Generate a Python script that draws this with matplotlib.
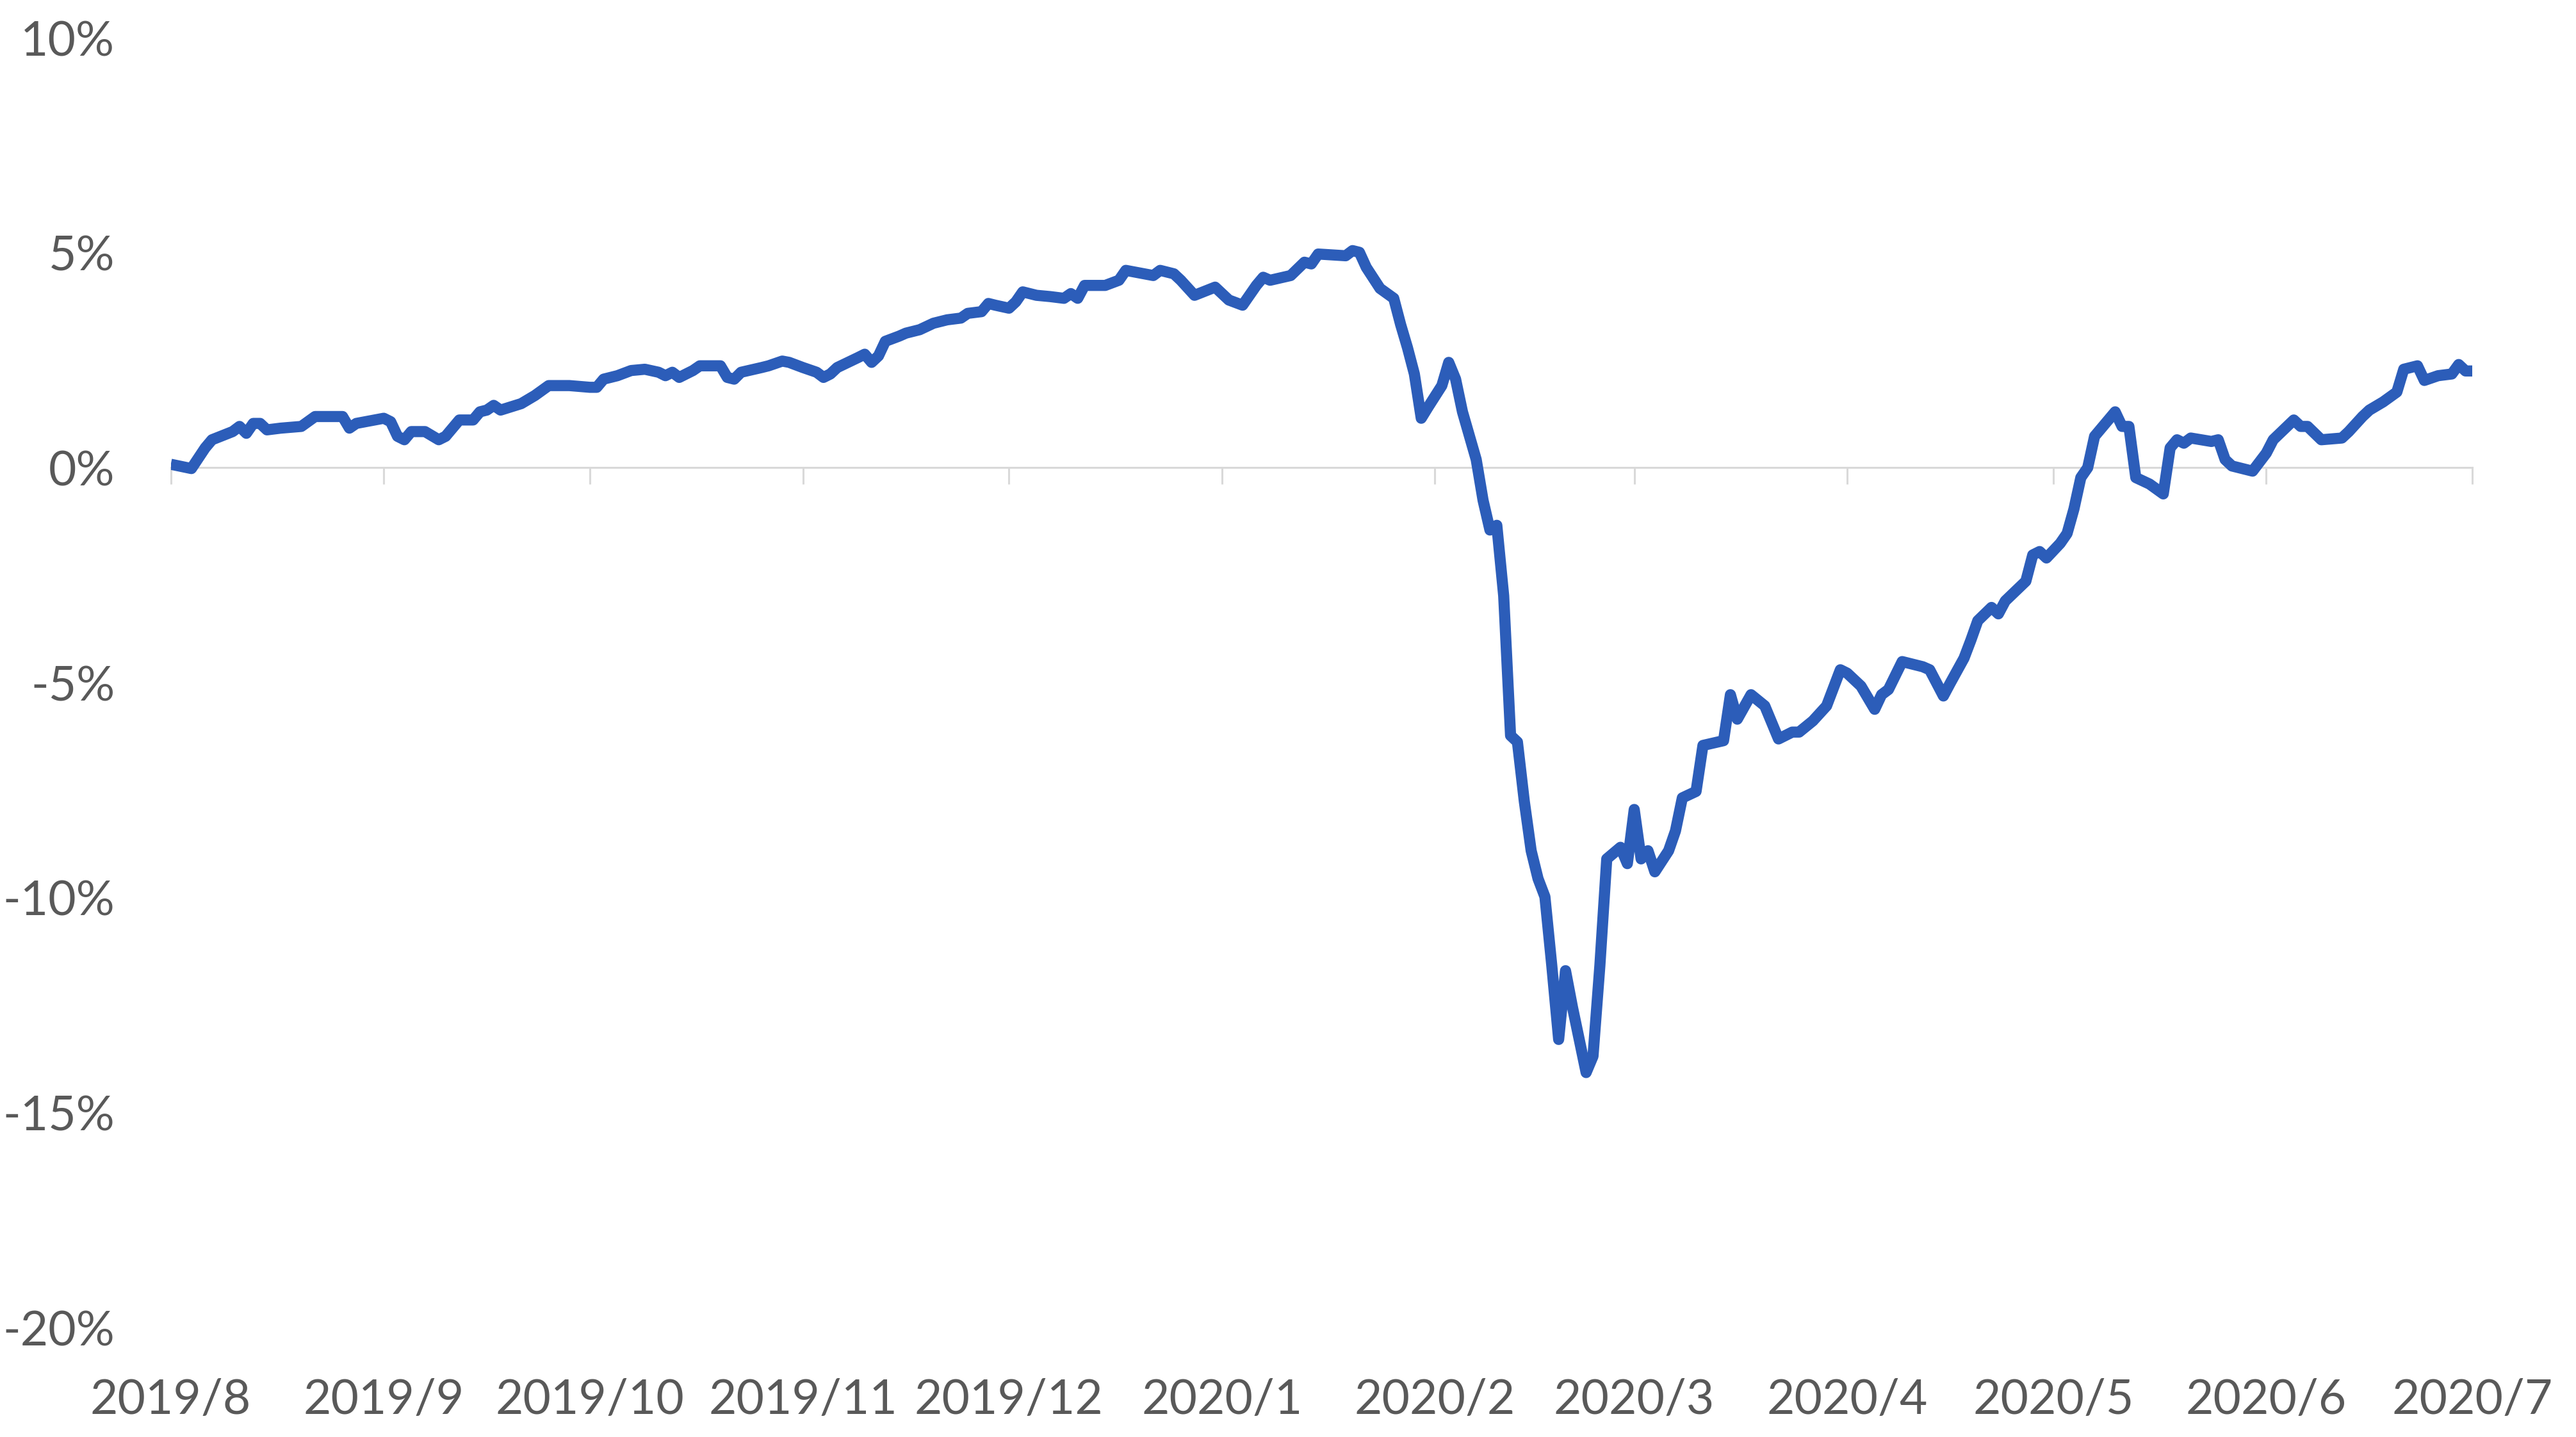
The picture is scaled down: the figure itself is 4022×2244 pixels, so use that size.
import matplotlib
matplotlib.use("Agg")
import matplotlib.pyplot as plt
import pandas as pd

dates = [
    "2019-08-01", "2019-08-04", "2019-08-06", "2019-08-07", "2019-08-10", "2019-08-11", "2019-08-12",
    "2019-08-13", "2019-08-14", "2019-08-15", "2019-08-17", "2019-08-20", "2019-08-22", "2019-08-26",
    "2019-08-27", "2019-08-28",
    "2019-09-01", "2019-09-02", "2019-09-03", "2019-09-04", "2019-09-05", "2019-09-07", "2019-09-09",
    "2019-09-10", "2019-09-12", "2019-09-14", "2019-09-15", "2019-09-16", "2019-09-17", "2019-09-18",
    "2019-09-21", "2019-09-23", "2019-09-25", "2019-09-28",
    "2019-10-01", "2019-10-02", "2019-10-03", "2019-10-05", "2019-10-07", "2019-10-09", "2019-10-11",
    "2019-10-12", "2019-10-13", "2019-10-14", "2019-10-16", "2019-10-17", "2019-10-20", "2019-10-21",
    "2019-10-22", "2019-10-23", "2019-10-26", "2019-10-27", "2019-10-29", "2019-10-30",
    "2019-11-01", "2019-11-03", "2019-11-04", "2019-11-05", "2019-11-06", "2019-11-09", "2019-11-10",
    "2019-11-11", "2019-11-12", "2019-11-13", "2019-11-15", "2019-11-16", "2019-11-18", "2019-11-20",
    "2019-11-22", "2019-11-24", "2019-11-25", "2019-11-27", "2019-11-28", "2019-11-29",
    "2019-12-01", "2019-12-02", "2019-12-03", "2019-12-05", "2019-12-07", "2019-12-09", "2019-12-10",
    "2019-12-11", "2019-12-12", "2019-12-13", "2019-12-15", "2019-12-17", "2019-12-18", "2019-12-22",
    "2019-12-23", "2019-12-25", "2019-12-26", "2019-12-28", "2019-12-31",
    "2020-01-02", "2020-01-04", "2020-01-06", "2020-01-07", "2020-01-08", "2020-01-11", "2020-01-13",
    "2020-01-14", "2020-01-15", "2020-01-19", "2020-01-20", "2020-01-21", "2020-01-22", "2020-01-24",
    "2020-01-26", "2020-01-27", "2020-01-28", "2020-01-29", "2020-01-30", "2020-01-31",
    "2020-02-02", "2020-02-03", "2020-02-04", "2020-02-05", "2020-02-07", "2020-02-08", "2020-02-09",
    "2020-02-10", "2020-02-11", "2020-02-12", "2020-02-13", "2020-02-14", "2020-02-15", "2020-02-16",
    "2020-02-17", "2020-02-18", "2020-02-19", "2020-02-20", "2020-02-21", "2020-02-23", "2020-02-24",
    "2020-02-25", "2020-02-26", "2020-02-28", "2020-02-29",
    "2020-03-01", "2020-03-02", "2020-03-03", "2020-03-04", "2020-03-06", "2020-03-07", "2020-03-08",
    "2020-03-10", "2020-03-11", "2020-03-14", "2020-03-15", "2020-03-16", "2020-03-18", "2020-03-20",
    "2020-03-22", "2020-03-24", "2020-03-25", "2020-03-27", "2020-03-29", "2020-03-31",
    "2020-04-01", "2020-04-03", "2020-04-05", "2020-04-06", "2020-04-07", "2020-04-09", "2020-04-12",
    "2020-04-13", "2020-04-15", "2020-04-16", "2020-04-18", "2020-04-19", "2020-04-20", "2020-04-22",
    "2020-04-23", "2020-04-24", "2020-04-27", "2020-04-28", "2020-04-29", "2020-04-30",
    "2020-05-02", "2020-05-03", "2020-05-04", "2020-05-05", "2020-05-06", "2020-05-07", "2020-05-10",
    "2020-05-11", "2020-05-12", "2020-05-13", "2020-05-15", "2020-05-17", "2020-05-18", "2020-05-19",
    "2020-05-20", "2020-05-21", "2020-05-24", "2020-05-25", "2020-05-26", "2020-05-27", "2020-05-28",
    "2020-05-30",
    "2020-06-01", "2020-06-02", "2020-06-05", "2020-06-06", "2020-06-07", "2020-06-09", "2020-06-12",
    "2020-06-13", "2020-06-15", "2020-06-16", "2020-06-18", "2020-06-20", "2020-06-21", "2020-06-22",
    "2020-06-23", "2020-06-24", "2020-06-26", "2020-06-28", "2020-06-29", "2020-06-30", "2020-07-01",
]

returns_pct = [
    0.08, -0.02, 0.46, 0.65, 0.84, 0.96, 0.80,
    1.03, 1.03, 0.88, 0.92, 0.96, 1.19, 1.19,
    0.92, 1.03,
    1.15, 1.07, 0.73, 0.65, 0.84, 0.84, 0.65,
    0.73, 1.11, 1.11, 1.30, 1.34, 1.45, 1.34,
    1.49, 1.68, 1.91, 1.91,
    1.87, 1.87, 2.06, 2.14, 2.26, 2.29, 2.22,
    2.14, 2.22, 2.10, 2.26, 2.37, 2.37, 2.10,
    2.06, 2.22, 2.33, 2.37, 2.48, 2.45,
    2.33, 2.22, 2.10, 2.18, 2.33, 2.56, 2.64,
    2.45, 2.60, 2.94, 3.06, 3.13, 3.21, 3.36,
    3.44, 3.48, 3.59, 3.63, 3.82, 3.78,
    3.71, 3.86, 4.09, 4.01, 3.98, 3.94, 4.05,
    3.94, 4.24, 4.24, 4.24, 4.36, 4.59, 4.47,
    4.59, 4.51, 4.36, 4.01, 4.20,
    3.90, 3.78, 4.24, 4.43, 4.36, 4.47, 4.78,
    4.74, 4.97, 4.93, 5.05, 5.01, 4.66, 4.17,
    3.94, 3.33, 2.79, 2.18, 1.15, 1.41,
    1.91, 2.45, 2.06, 1.30, 0.19, -0.76, -1.45,
    -1.34, -2.98, -6.23, -6.38, -7.76, -8.91, -9.56,
    -9.98, -11.58, -13.30, -11.70, -12.54, -14.07, -13.69,
    -11.58, -9.10, -8.83, -9.21,
    -7.95, -9.10, -8.91, -9.40, -8.91, -8.45, -7.68,
    -7.53, -6.46, -6.35, -5.28, -5.85, -5.28, -5.54,
    -6.31, -6.15, -6.15, -5.89, -5.54, -4.70,
    -4.78, -5.08, -5.62, -5.28, -5.16, -4.51, -4.63,
    -4.70, -5.31, -5.01, -4.43, -4.01, -3.56, -3.25,
    -3.40, -3.10, -2.64, -2.03, -1.95, -2.10,
    -1.76, -1.53, -0.96, -0.23, 0.00, 0.73, 1.30,
    0.96, 0.96, -0.23, -0.38, -0.61, 0.46, 0.65,
    0.57, 0.69, 0.61, 0.65, 0.19, 0.04, 0.00,
    -0.08,
    0.34, 0.65, 1.11, 0.96, 0.96, 0.65, 0.69,
    0.84, 1.19, 1.34, 1.53, 1.76, 2.29, 2.33,
    2.37, 2.03, 2.14, 2.18, 2.40, 2.25, 2.25,
]

y_ticks = [-20, -15, -10, -5, 0, 5, 10]
y_tick_labels = ["-20%", "-15%", "-10%", "-5%", "0%", "5%", "10%"]
month_ticks = ["2019-08-01", "2019-09-01", "2019-10-01", "2019-11-01", "2019-12-01", "2020-01-01",
               "2020-02-01", "2020-03-01", "2020-04-01", "2020-05-01", "2020-06-01", "2020-07-01"]
month_labels = ["2019/8", "2019/9", "2019/10", "2019/11", "2019/12", "2020/1",
                "2020/2", "2020/3", "2020/4", "2020/5", "2020/6", "2020/7"]

plt.rcParams["font.family"] = ["Lato", "DejaVu Sans"]
text_color = "#595959"
axis_color = "#D9D9D9"
line_color = "#2C5DB9"

fig = plt.figure(figsize=(40.22, 22.44), dpi=100)
ax = fig.add_axes([0.0663, 0.0762, 0.8935, 0.8975])

x = pd.to_datetime(dates)
ax.plot(x, returns_pct, color=line_color, lw=12.5, solid_joinstyle="round", solid_capstyle="butt", zorder=3)

ax.set_ylim(-20, 10)
ax.set_xlim(pd.Timestamp("2019-08-01"), pd.Timestamp("2020-07-01"))

for s in ["top", "right", "left"]:
    ax.spines[s].set_visible(False)
ax.spines["bottom"].set_position(("data", 0))
ax.spines["bottom"].set_color(axis_color)
ax.spines["bottom"].set_linewidth(2.2)

tick_pos = pd.to_datetime(month_ticks)
ax.set_xticks(tick_pos)
ax.tick_params(axis="x", direction="out", length=19, width=2.2, color=axis_color, labelbottom=False)

ax.set_yticks(y_ticks)
ax.set_yticklabels(y_tick_labels)
ax.tick_params(axis="y", length=0, pad=63, labelsize=54, labelcolor=text_color)

sec = ax.secondary_xaxis(0.0)
sec.set_xticks(tick_pos)
sec.set_xticklabels(month_labels)
sec.tick_params(axis="x", length=0, pad=57, labelsize=54, labelcolor=text_color)
sec.spines["bottom"].set_visible(False)

fig.savefig("out.png", dpi=100, facecolor="white")
